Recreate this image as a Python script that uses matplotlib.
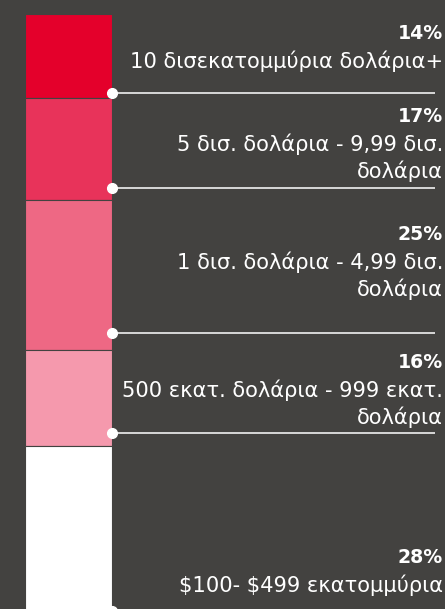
import matplotlib
matplotlib.use("Agg")
import matplotlib.pyplot as plt

# ---- data ----
categories = [
    "10 δισεκατομμύρια δολάρια+",
    "5 δισ. δολάρια - 9,99 δισ.\nδολάρια",
    "1 δισ. δολάρια - 4,99 δισ.\nδολάρια",
    "500 εκατ. δολάρια - 999 εκατ.\nδολάρια",
    "$100- $499 εκατομμύρια",
]
shares = [14, 17, 25, 16, 28]
pct_labels = ["14%", "17%", "25%", "16%", "28%"]
colors = ["#e4002b", "#e8335a", "#ee6884", "#f599ad", "#ffffff"]

# ---- layout (pixel-ish helpers, not data) ----
W, H = 445, 609
BG = "#434240"
px_per_pct = 6.0
top_px = 14.0
leader_gap = [0.8, 2.0, 2.8, 2.1, 0.5]       # leader line sits slightly above segment end (pct units)
pct_baseline_px = [39, 122, 240, 368, 563]
line_step_px = 27.0
first_desc_gap_px = 29

fig = plt.figure(figsize=(W / 100, H / 100), dpi=100, facecolor=BG)
ax = fig.add_axes([0, 0, 1, 1])
ax.set_facecolor(BG)
ax.set_xlim(0, W)
ax.set_ylim((H - top_px) / px_per_pct, -top_px / px_per_pct)
ax.axis("off")

def px2y(p):
    return (p - top_px) / px_per_pct

bar_left, bar_right = 25, 112
starts = []
acc = 0
for v in shares:
    starts.append(acc)
    acc += v
ax.bar([(bar_left + bar_right) / 2] * len(shares), shares, bottom=starts,
       width=bar_right - bar_left, color=colors, edgecolor=BG, linewidth=0.8,
       zorder=2)

font = "DejaVu Sans"
fs = 15.1
fs_pct = 13.6
for i, (s, v) in enumerate(zip(starts, shares)):
    ly = s + v - leader_gap[i]
    ax.plot([bar_right, 435], [ly, ly], color="#d8d8d8", lw=1.4, zorder=3,
            solid_capstyle="butt")
    ax.plot([bar_right], [ly], "o", ms=7, color="white", zorder=4)
    b = pct_baseline_px[i]
    ax.text(443, px2y(b), pct_labels[i], ha="right", va="baseline",
            color="white", fontsize=fs_pct, fontweight="bold", family=font,
            parse_math=False)
    for j, line in enumerate(categories[i].split("\n")):
        ax.text(443, px2y(b + first_desc_gap_px + j * line_step_px), line,
                ha="right", va="baseline", color="white", fontsize=fs,
                family=font, parse_math=False)

fig.savefig("out.png", dpi=100, facecolor=BG)
